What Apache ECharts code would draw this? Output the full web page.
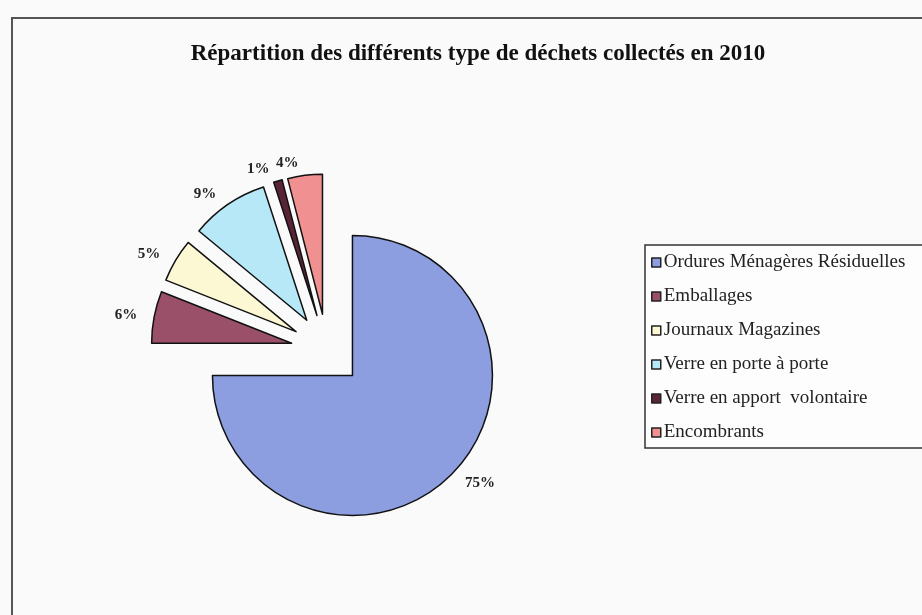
<!DOCTYPE html>
<html>
<head>
<meta charset="utf-8">
<script src="https://cdn.jsdelivr.net/npm/echarts@6/dist/echarts.min.js"></script>
<style>
html,body{margin:0;padding:0;background:#fafafa;}
#main{width:922px;height:615px;}
</style>
</head>
<body>
<div id="main"></div>
<script>
const categories = ['Ordures Ménagères Résiduelles','Emballages','Journaux Magazines','Verre en porte à porte','Verre en apport  volontaire','Encombrants'];
const values = [75, 6, 5, 9, 1, 4];
const colors = ['#8c9de0','#9a5068','#fdf8d4','#b6e8f8','#5a2438','#f19090'];
const titleText = 'Répartition des différents type de déchets collectés en 2010';

const chart = echarts.init(document.getElementById('main'), null, {renderer:'canvas'});
const data = categories.map((c,i)=>({name:c, value:values[i], selected:true, itemStyle:{color:colors[i]}}));
chart.setOption({
  backgroundColor:'#fafafa',
  animation:false,
  title:{
    text:titleText, left:473, textAlign:'center', top:38,
    textStyle:{fontFamily:'Liberation Serif', fontWeight:'bold', fontSize:23, color:'#111'}
  },
  graphic:[{type:'rect', shape:{x:12, y:18, width:940, height:640}, style:{fill:'none', stroke:'#555', lineWidth:2}, silent:true}],
  legend:{
    orient:'vertical', left:645, top:245, width:400,
    data:categories,
    backgroundColor:'#fdfdfd', borderColor:'#333', borderWidth:1.5,
    padding:[8,60,6,6], itemGap:15,
    itemWidth:9, itemHeight:9, icon:'rect',
    itemStyle:{borderColor:'#222', borderWidth:1.5},
    textStyle:{fontFamily:'Liberation Serif', fontSize:19, color:'#222', padding:[0,0,0,-2]},
    selectedMode:false
  },
  series:[{
    type:'pie',
    center:[327,350], radius:140,
    startAngle:90, clockwise:true,
    selectedMode:'multiple', selectedOffset:36,
    avoidLabelOverlap:false,
    itemStyle:{borderColor:'#111', borderWidth:1.5},
    label:{show:true, position:'outside', formatter:p=>Math.round(p.percent)+'%',
      fontFamily:'Liberation Serif', fontSize:15, fontWeight:'bold', color:'#222'},
    labelLine:{show:false, length:12, length2:0},
    emphasis:{disabled:true},
    data:data
  }]
});
</script>
</body>
</html>
